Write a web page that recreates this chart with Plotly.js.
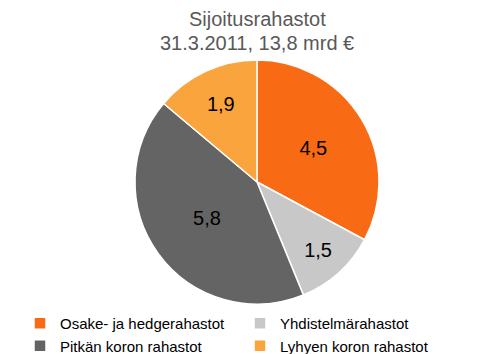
<!DOCTYPE html>
<html><head><meta charset="utf-8">
<script src="https://cdn.plot.ly/plotly-3.0.1.min.js"></script>
<style>html,body{margin:0;padding:0;background:#fff}</style>
</head><body>
<div id="chart" style="width:497px;height:354px"></div>
<script>
var categories = ["Osake- ja hedgerahastot", "Yhdistelmärahastot", "Pitkän koron rahastot", "Lyhyen koron rahastot"];
var values = [4.5, 1.5, 5.8, 1.9];
var colors = ["#F96A14", "#C8C8C8", "#646464", "#F9A43C"];
var titleLine1 = "Sijoitusrahastot";
var titleLine2 = "31.3.2011, 13,8 mrd €";

var data = [{
  type: "pie",
  labels: categories,
  values: values,
  sort: false,
  direction: "clockwise",
  rotation: 0,
  domain: {x: [135/497, 379/497], y: [0, 1]},
  marker: {colors: colors, line: {color: "#ffffff", width: 1.5}},
  textinfo: "value",
  texttemplate: "%{value:.1f}",
  textposition: "inside",
  insidetextorientation: "horizontal",
  textfont: {family: "Liberation Sans, Arial, sans-serif", size: 20, color: "#000000"},
  hoverinfo: "none"
}];

var tfont = {family: "Liberation Sans, Arial, sans-serif", size: 20, color: "#595959"};
var layout = {
  width: 497, height: 354,
  separators: ", ",
  margin: {l: 0, r: 0, t: 60, b: 50, autoexpand: false},
  paper_bgcolor: "#ffffff",
  font: {family: "Liberation Sans, Arial, sans-serif"},
  annotations: [
    {text: titleLine1, xref: "paper", yref: "paper", x: 257/497, y: 1 + (60-19)/244,
     xanchor: "center", yanchor: "middle", showarrow: false, font: tfont},
    {text: titleLine2, xref: "paper", yref: "paper", x: 257/497, y: 1 + (60-43)/244,
     xanchor: "center", yanchor: "middle", showarrow: false, font: tfont}
  ],
  showlegend: true,
  legend: {
    orientation: "h",
    x: 20/497, xanchor: "left",
    y: -3/244, yanchor: "top",
    entrywidth: 175, entrywidthmode: "pixels",
    traceorder: "normal",
    itemwidth: 30,
    font: {family: "Liberation Sans, Arial, sans-serif", size: 15, color: "#000000"},
    tracegroupgap: 0
  }
};

Plotly.newPlot("chart", data, layout, {displayModeBar: false, staticPlot: true});
</script>
</body></html>
